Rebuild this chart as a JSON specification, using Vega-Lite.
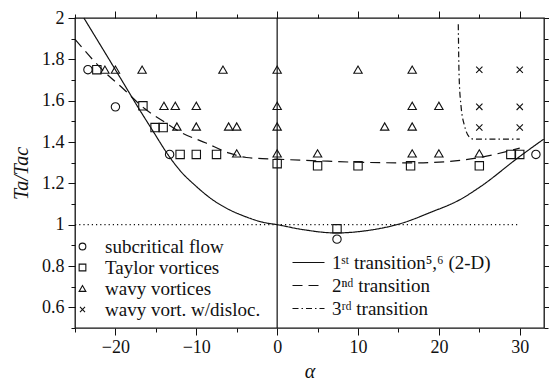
{
  "$schema": "https://vega.github.io/schema/vega-lite/v6.json",
  "width": 469,
  "height": 310,
  "autosize": "none",
  "padding": {"left": 75, "top": 18, "right": 5, "bottom": 53},
  "background": "white",
  "config": {
    "font": "Liberation Serif",
    "view": {"stroke": "#111", "strokeWidth": 1.3},
    "axis": {"grid": false, "domain": false, "tickColor": "#111", "tickWidth": 1, "labelColor": "#111", "labelFontSize": 18, "labelFont": "Liberation Serif", "titleFont": "Liberation Serif", "titleFontWeight": "normal", "titleFontStyle": "italic", "titleFontSize": 20, "titleColor": "#111"},
    "legend": {"labelFont": "Liberation Serif", "labelFontSize": 19, "labelColor": "#111", "padding": 0, "titlePadding": 0}
  },
  "datasets": {
    "points": [
      {"alpha": -23.4, "ta": 1.75, "type": "subcritical flow"},
      {"alpha": -20, "ta": 1.57, "type": "subcritical flow"},
      {"alpha": -13.3, "ta": 1.34, "type": "subcritical flow"},
      {"alpha": 7.4, "ta": 0.93, "type": "subcritical flow"},
      {"alpha": 32, "ta": 1.34, "type": "subcritical flow"},
      {"alpha": -22.3, "ta": 1.75, "type": "Taylor vortices"},
      {"alpha": -16.6, "ta": 1.575, "type": "Taylor vortices"},
      {"alpha": -15.1, "ta": 1.47, "type": "Taylor vortices"},
      {"alpha": -14.1, "ta": 1.47, "type": "Taylor vortices"},
      {"alpha": -12.0, "ta": 1.34, "type": "Taylor vortices"},
      {"alpha": -10, "ta": 1.34, "type": "Taylor vortices"},
      {"alpha": -7.5, "ta": 1.34, "type": "Taylor vortices"},
      {"alpha": 0, "ta": 1.295, "type": "Taylor vortices"},
      {"alpha": 5, "ta": 1.285, "type": "Taylor vortices"},
      {"alpha": 10, "ta": 1.285, "type": "Taylor vortices"},
      {"alpha": 16.5, "ta": 1.285, "type": "Taylor vortices"},
      {"alpha": 25, "ta": 1.285, "type": "Taylor vortices"},
      {"alpha": 7.4, "ta": 0.98, "type": "Taylor vortices"},
      {"alpha": 28.9, "ta": 1.34, "type": "Taylor vortices"},
      {"alpha": 30, "ta": 1.34, "type": "Taylor vortices"},
      {"alpha": -21.3, "ta": 1.75, "type": "wavy vortices"},
      {"alpha": -20, "ta": 1.75, "type": "wavy vortices"},
      {"alpha": -16.7, "ta": 1.75, "type": "wavy vortices"},
      {"alpha": -6.7, "ta": 1.75, "type": "wavy vortices"},
      {"alpha": 0, "ta": 1.75, "type": "wavy vortices"},
      {"alpha": 10, "ta": 1.75, "type": "wavy vortices"},
      {"alpha": 16.7, "ta": 1.75, "type": "wavy vortices"},
      {"alpha": -14, "ta": 1.575, "type": "wavy vortices"},
      {"alpha": -12.6, "ta": 1.575, "type": "wavy vortices"},
      {"alpha": -10, "ta": 1.575, "type": "wavy vortices"},
      {"alpha": 0, "ta": 1.575, "type": "wavy vortices"},
      {"alpha": 16.7, "ta": 1.575, "type": "wavy vortices"},
      {"alpha": 20, "ta": 1.575, "type": "wavy vortices"},
      {"alpha": -12.4, "ta": 1.475, "type": "wavy vortices"},
      {"alpha": -10, "ta": 1.475, "type": "wavy vortices"},
      {"alpha": -6, "ta": 1.475, "type": "wavy vortices"},
      {"alpha": -5, "ta": 1.475, "type": "wavy vortices"},
      {"alpha": 0, "ta": 1.475, "type": "wavy vortices"},
      {"alpha": 13.3, "ta": 1.475, "type": "wavy vortices"},
      {"alpha": 16.7, "ta": 1.475, "type": "wavy vortices"},
      {"alpha": -5, "ta": 1.345, "type": "wavy vortices"},
      {"alpha": 0, "ta": 1.345, "type": "wavy vortices"},
      {"alpha": 5, "ta": 1.345, "type": "wavy vortices"},
      {"alpha": 16.7, "ta": 1.345, "type": "wavy vortices"},
      {"alpha": 20, "ta": 1.345, "type": "wavy vortices"},
      {"alpha": 25, "ta": 1.345, "type": "wavy vortices"},
      {"alpha": 25, "ta": 1.75, "type": "wavy vort. w/disloc."},
      {"alpha": 30, "ta": 1.75, "type": "wavy vort. w/disloc."},
      {"alpha": 25, "ta": 1.57, "type": "wavy vort. w/disloc."},
      {"alpha": 30, "ta": 1.57, "type": "wavy vort. w/disloc."},
      {"alpha": 25, "ta": 1.47, "type": "wavy vort. w/disloc."},
      {"alpha": 30, "ta": 1.47, "type": "wavy vort. w/disloc."}
    ],
    "curves": [
      {"alpha": -23.9, "ta": 2.0, "curve": "1ˢᵗ transition⁵,⁶ (2-D)"},
      {"alpha": -19.5, "ta": 1.717, "curve": "1ˢᵗ transition⁵,⁶ (2-D)"},
      {"alpha": -17.25, "ta": 1.571, "curve": "1ˢᵗ transition⁵,⁶ (2-D)"},
      {"alpha": -15.2, "ta": 1.443, "curve": "1ˢᵗ transition⁵,⁶ (2-D)"},
      {"alpha": -13.7, "ta": 1.35, "curve": "1ˢᵗ transition⁵,⁶ (2-D)"},
      {"alpha": -12.1, "ta": 1.266, "curve": "1ˢᵗ transition⁵,⁶ (2-D)"},
      {"alpha": -10, "ta": 1.185, "curve": "1ˢᵗ transition⁵,⁶ (2-D)"},
      {"alpha": -8, "ta": 1.121, "curve": "1ˢᵗ transition⁵,⁶ (2-D)"},
      {"alpha": -5.9, "ta": 1.072, "curve": "1ˢᵗ transition⁵,⁶ (2-D)"},
      {"alpha": -3.8, "ta": 1.037, "curve": "1ˢᵗ transition⁵,⁶ (2-D)"},
      {"alpha": -1.8, "ta": 1.012, "curve": "1ˢᵗ transition⁵,⁶ (2-D)"},
      {"alpha": 0, "ta": 1.0, "curve": "1ˢᵗ transition⁵,⁶ (2-D)"},
      {"alpha": 3.2, "ta": 0.976, "curve": "1ˢᵗ transition⁵,⁶ (2-D)"},
      {"alpha": 7.3, "ta": 0.96, "curve": "1ˢᵗ transition⁵,⁶ (2-D)"},
      {"alpha": 11.4, "ta": 0.973, "curve": "1ˢᵗ transition⁵,⁶ (2-D)"},
      {"alpha": 15.5, "ta": 1.008, "curve": "1ˢᵗ transition⁵,⁶ (2-D)"},
      {"alpha": 18.8, "ta": 1.057, "curve": "1ˢᵗ transition⁵,⁶ (2-D)"},
      {"alpha": 22.6, "ta": 1.121, "curve": "1ˢᵗ transition⁵,⁶ (2-D)"},
      {"alpha": 25, "ta": 1.18, "curve": "1ˢᵗ transition⁵,⁶ (2-D)"},
      {"alpha": 30, "ta": 1.33, "curve": "1ˢᵗ transition⁵,⁶ (2-D)"},
      {"alpha": 33, "ta": 1.415, "curve": "1ˢᵗ transition⁵,⁶ (2-D)"},
      {"alpha": -25, "ta": 1.897, "curve": "2ⁿᵈ transition"},
      {"alpha": -21.6, "ta": 1.749, "curve": "2ⁿᵈ transition"},
      {"alpha": -19.1, "ta": 1.66, "curve": "2ⁿᵈ transition"},
      {"alpha": -16.4, "ta": 1.562, "curve": "2ⁿᵈ transition"},
      {"alpha": -13.7, "ta": 1.491, "curve": "2ⁿᵈ transition"},
      {"alpha": -12.1, "ta": 1.451, "curve": "2ⁿᵈ transition"},
      {"alpha": -8.8, "ta": 1.395, "curve": "2ⁿᵈ transition"},
      {"alpha": -5.9, "ta": 1.346, "curve": "2ⁿᵈ transition"},
      {"alpha": -3.8, "ta": 1.325, "curve": "2ⁿᵈ transition"},
      {"alpha": 0, "ta": 1.317, "curve": "2ⁿᵈ transition"},
      {"alpha": 5, "ta": 1.309, "curve": "2ⁿᵈ transition"},
      {"alpha": 10, "ta": 1.302, "curve": "2ⁿᵈ transition"},
      {"alpha": 16.5, "ta": 1.299, "curve": "2ⁿᵈ transition"},
      {"alpha": 21.3, "ta": 1.306, "curve": "2ⁿᵈ transition"},
      {"alpha": 25, "ta": 1.325, "curve": "2ⁿᵈ transition"},
      {"alpha": 30, "ta": 1.37, "curve": "2ⁿᵈ transition"},
      {"alpha": 22.4, "ta": 1.97, "curve": "3ʳᵈ transition"},
      {"alpha": 22.5, "ta": 1.72, "curve": "3ʳᵈ transition"},
      {"alpha": 22.75, "ta": 1.57, "curve": "3ʳᵈ transition"},
      {"alpha": 23.2, "ta": 1.475, "curve": "3ʳᵈ transition"},
      {"alpha": 23.7, "ta": 1.427, "curve": "3ʳᵈ transition"},
      {"alpha": 24.3, "ta": 1.414, "curve": "3ʳᵈ transition"},
      {"alpha": 30, "ta": 1.414, "curve": "3ʳᵈ transition"}
    ],
    "vline": [{"alpha": 0, "lo": 0.5, "hi": 2}],
    "hline": [{"from": -25, "to": 30, "ta": 1}]
  },
  "layer": [
    {
      "data": {"name": "vline"},
      "mark": {"type": "rule", "color": "#111", "strokeWidth": 1.2},
      "encoding": {
        "x": {"field": "alpha", "type": "quantitative", "scale": {"domain": [-25, 33], "nice": false, "zero": false},
              "axis": {"orient": "bottom", "values": [-25, -15, -5, 5, 15, 25], "labels": false, "tickSize": 4, "title": null}},
        "y": {"field": "lo", "type": "quantitative", "scale": {"domain": [0.5, 2], "nice": false, "zero": false},
              "axis": {"orient": "left", "values": [0.5, 0.7, 0.9, 1.1, 1.3, 1.5, 1.7, 1.9], "labels": false, "tickSize": 4, "title": null}},
        "y2": {"field": "hi"}
      }
    },
    {
      "data": {"name": "hline"},
      "mark": {"type": "rule", "color": "#111", "strokeWidth": 1.2, "strokeDash": [1.2, 3]},
      "encoding": {
        "x": {"field": "from", "type": "quantitative",
              "axis": {"orient": "top", "values": [-25, -15, -5, 5, 15, 25], "labels": false, "tickSize": 4, "title": null}},
        "x2": {"field": "to"},
        "y": {"field": "ta", "type": "quantitative",
              "axis": {"orient": "right", "values": [0.5, 0.7, 0.9, 1.1, 1.3, 1.5, 1.7, 1.9], "labels": false, "tickSize": 4, "title": null}}
      }
    },
    {
      "data": {"name": "curves"},
      "mark": {"type": "line", "color": "#111", "strokeWidth": 1.2, "interpolate": "monotone"},
      "encoding": {
        "x": {"field": "alpha", "type": "quantitative",
              "axis": {"orient": "top", "values": [-20, -10, 0, 10, 20, 30], "labels": false, "tickSize": 7, "title": null}},
        "y": {"field": "ta", "type": "quantitative",
              "axis": {"orient": "right", "values": [0.6, 0.8, 1, 1.2, 1.4, 1.6, 1.8, 2], "labels": false, "tickSize": 7, "title": null}},
        "strokeDash": {"field": "curve", "type": "nominal",
          "scale": {"domain": ["1ˢᵗ transition⁵,⁶ (2-D)", "2ⁿᵈ transition", "3ʳᵈ transition"], "range": [[1, 0], [10, 6], [6, 3, 1.5, 3]]},
          "legend": {"title": null, "orient": "none", "legendX": 224, "legendY": 235, "symbolType": "M-8,0H8", "symbolSize": 16, "symbolStrokeWidth": 1.2, "symbolStrokeColor": "#111", "symbolFillColor": "transparent", "labelOffset": 14, "rowPadding": 3}}
      }
    },
    {
      "data": {"name": "points"},
      "mark": {"type": "point", "filled": false, "color": "#111", "strokeWidth": 1.1, "opacity": 1, "size": 70},
      "encoding": {
        "x": {"field": "alpha", "type": "quantitative",
              "axis": {"orient": "bottom", "values": [-20, -10, 0, 10, 20, 30], "tickSize": 7, "labelPadding": 3, "title": "α", "titlePadding": 5}},
        "y": {"field": "ta", "type": "quantitative",
              "axis": {"orient": "left", "values": [0.6, 0.8, 1, 1.2, 1.4, 1.6, 1.8, 2], "format": "~g", "tickSize": 7, "labelPadding": 4, "title": "Ta/Tac", "titlePadding": 10}},
        "shape": {"field": "type", "type": "nominal",
          "scale": {"domain": ["subcritical flow", "Taylor vortices", "wavy vortices", "wavy vort. w/disloc."],
                    "range": ["circle", "square", "triangle-up", "M-0.75,-0.75L0.75,0.75M-0.75,0.75L0.75,-0.75"]},
          "legend": {"title": null, "orient": "none", "legendX": -2, "legendY": 219, "symbolSize": 45, "symbolStrokeWidth": 1.1, "symbolStrokeColor": "#111", "symbolFillColor": "transparent", "labelOffset": 13, "rowPadding": 1}}
      }
    }
  ],
  "resolve": {"axis": {"x": "independent", "y": "independent"}}
}
